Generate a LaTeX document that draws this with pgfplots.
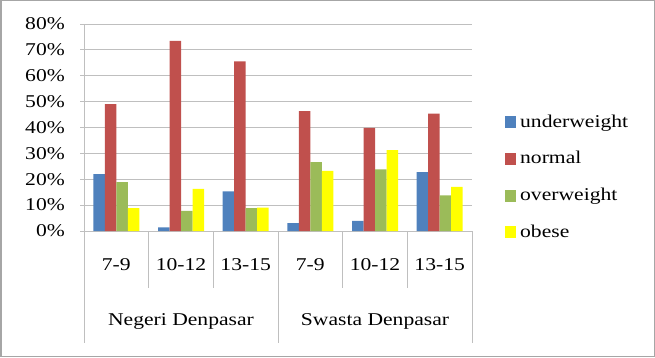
\documentclass[border=0pt]{standalone}
\usepackage{pgfplots}
\pgfplotsset{compat=1.18}
\usepackage{fontspec}
\setmainfont{Liberation Serif}[FakeStretch=1.2]
\definecolor{cblue}{HTML}{4F81BD}
\definecolor{cred}{HTML}{C0504D}
\definecolor{cgreen}{HTML}{9BBB59}
\definecolor{cyellow}{HTML}{FFFF00}
\definecolor{gridc}{HTML}{BFBFBF}
\begin{document}
\fontsize{18bp}{21bp}\selectfont
\begin{tikzpicture}[x=1bp,y=1bp]
\useasboundingbox (0,0) rectangle (655,357);
\draw[line width=1.5bp, gray!70] (0.75,0.75) rectangle (654.25,356.25);
\begin{axis}[
  at={(84bp,126bp)}, anchor=south west,
  scale only axis, width=388bp, height=207bp,
  xmin=-0.5, xmax=5.5, ymin=0, ymax=80,
  ybar=0pt, bar width=11.5bp,
  axis x line*=bottom, axis y line*=left,
  axis line style={gridc, line width=0.8bp},
  xtick=data,
  xticklabels={7-9,10-12,13-15,7-9,10-12,13-15},
  xticklabel style={anchor=base, yshift=-35bp},
  x tick style={draw=none},
  ytick={0,10,...,80},
  yticklabel={\pgfmathprintnumber{\tick}\%},
  yticklabel style={xshift=-9bp},
  /pgf/number format/assume math mode=true,
  y tick style={gridc, line width=0.8bp},
  tick align=outside, major tick length=4bp,
  ymajorgrids, grid style={gridc, line width=0.8bp},
  clip=false,
  legend style={at={(1.085,0.566)}, anchor=north west, draw=none, fill=none,
    inner sep=0pt,
    nodes={inner sep=0pt, text height=13bp, text depth=23.7bp},
    },
  legend cell align=left,
  legend image code/.code={\fill[#1,draw=none] (0bp,4bp) rectangle (11bp,16bp); \path (15bp,4bp);},
]
\addplot[fill=cblue, draw=none] coordinates {(0,22) (1,1.4) (2,15.3) (3,3.0) (4,3.9) (5,22.8)};
\addplot[fill=cred, draw=none] coordinates {(0,49) (1,73.5) (2,65.6) (3,46.3) (4,39.9) (5,45.4)};
\addplot[fill=cgreen, draw=none] coordinates {(0,18.9) (1,7.8) (2,8.8) (3,26.6) (4,23.8) (5,13.8)};
\addplot[fill=cyellow, draw=none] coordinates {(0,8.8) (1,16.3) (2,9.0) (3,23.2) (4,31.3) (5,17.1)};
\legend{underweight,normal,overweight,obese}
\foreach \xx in {0.5,1.5,3.5,4.5} {
  \edef\tmp{\noexpand\draw[gridc, line width=0.8bp] (axis cs:\xx,0) -- ([yshift=-57bp]axis cs:\xx,0);}\tmp
}
\foreach \xx in {-0.5,2.5,5.5} {
  \edef\tmp{\noexpand\draw[gridc, line width=0.8bp] (axis cs:\xx,0) -- ([yshift=-112bp]axis cs:\xx,0);}\tmp
}
\node[anchor=base] at ([yshift=-94bp]axis cs:1,0) {Negeri Denpasar};
\node[anchor=base] at ([yshift=-94bp]axis cs:4,0) {Swasta Denpasar};
\end{axis}
\end{tikzpicture}
\end{document}
